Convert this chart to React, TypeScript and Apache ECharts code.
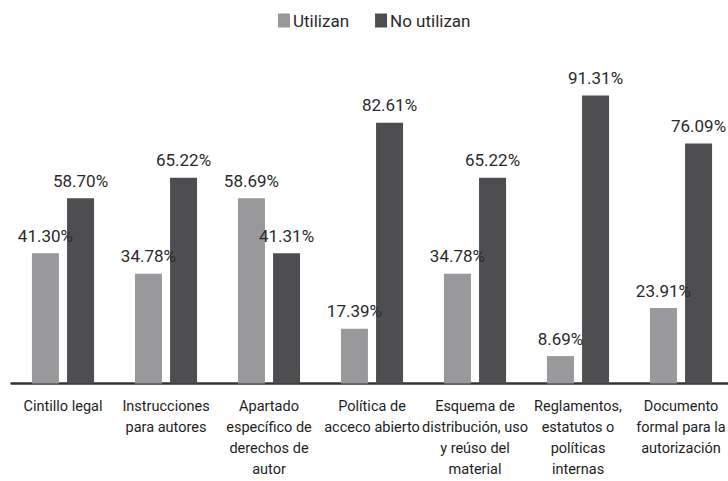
import React, { useEffect, useRef } from "react";
import * as echarts from "echarts";

const categories = [
  "Cintillo legal",
  "Instrucciones\npara autores",
  "Apartado\nespecífico de\nderechos de\nautor",
  "Política de\nacceco abierto",
  "Esquema de\ndistribución, uso\ny reúso del\nmaterial",
  "Reglamentos,\nestatutos o\npolíticas\ninternas",
  "Documento\nformal para la\nautorización",
];
const utilizan = [41.3, 34.78, 58.69, 17.39, 34.78, 8.69, 23.91];
const noUtilizan = [58.7, 65.22, 41.31, 82.61, 65.22, 91.31, 76.09];
const seriesNames = ["Utilizan", "No utilizan"];

const FONT = "Roboto, 'DejaVu Sans Condensed', sans-serif";

export default function App() {
  const ref = useRef<HTMLDivElement>(null);
  useEffect(() => {
    if (!ref.current) return;
    const chart = echarts.init(ref.current, undefined, { renderer: "svg" });
    const label = {
      show: true,
      position: "top" as const,
      distance: 9,
      fontFamily: FONT,
      fontSize: 17,
      color: "#2a2a2a",
      formatter: (p: any) => p.value.toFixed(2) + "%",
    };
    chart.setOption({
      animation: false,
      backgroundColor: "#ffffff",
      textStyle: { fontFamily: FONT },
      legend: {
        top: 12,
        left: 278,
        padding: 0,
        itemWidth: 12,
        itemHeight: 14,
        itemGap: 26,
        icon: "rect",
        textStyle: { fontFamily: FONT, fontSize: 17, color: "#2a2a2a", padding: [0, 0, 0, -2] },
        data: seriesNames,
      },
      grid: { left: 11.5, width: 721, top: 68, height: 315.5, outerBoundsMode: "none", containLabel: false },
      xAxis: {
        type: "category",
        data: categories,
        axisLine: { show: true, lineStyle: { color: "#333333", width: 2.5 } },
        axisTick: { show: false },
        axisLabel: {
          interval: 0,
          margin: 12,
          fontFamily: FONT,
          fontSize: 14.5,
          lineHeight: 21,
          color: "#1e1e1e",
          align: "center",
        },
      },
      yAxis: {
        type: "value",
        min: 0,
        max: 100,
        show: false,
        splitLine: { show: false },
      },
      series: [
        {
          name: seriesNames[0],
          type: "bar",
          data: utilizan,
          barWidth: 27,
          barGap: "30%",
          itemStyle: { color: "#99999c" },
          label,
        },
        {
          name: seriesNames[1],
          type: "bar",
          data: noUtilizan,
          barWidth: 27,
          barGap: "30%",
          itemStyle: { color: "#4e4e50" },
          label,
        },
      ],
    });
    return () => chart.dispose();
  }, []);
  return (
    <div
      ref={ref}
      style={{ position: "absolute", left: 0, top: 0, width: 728, height: 481 }}
    />
  );
}
